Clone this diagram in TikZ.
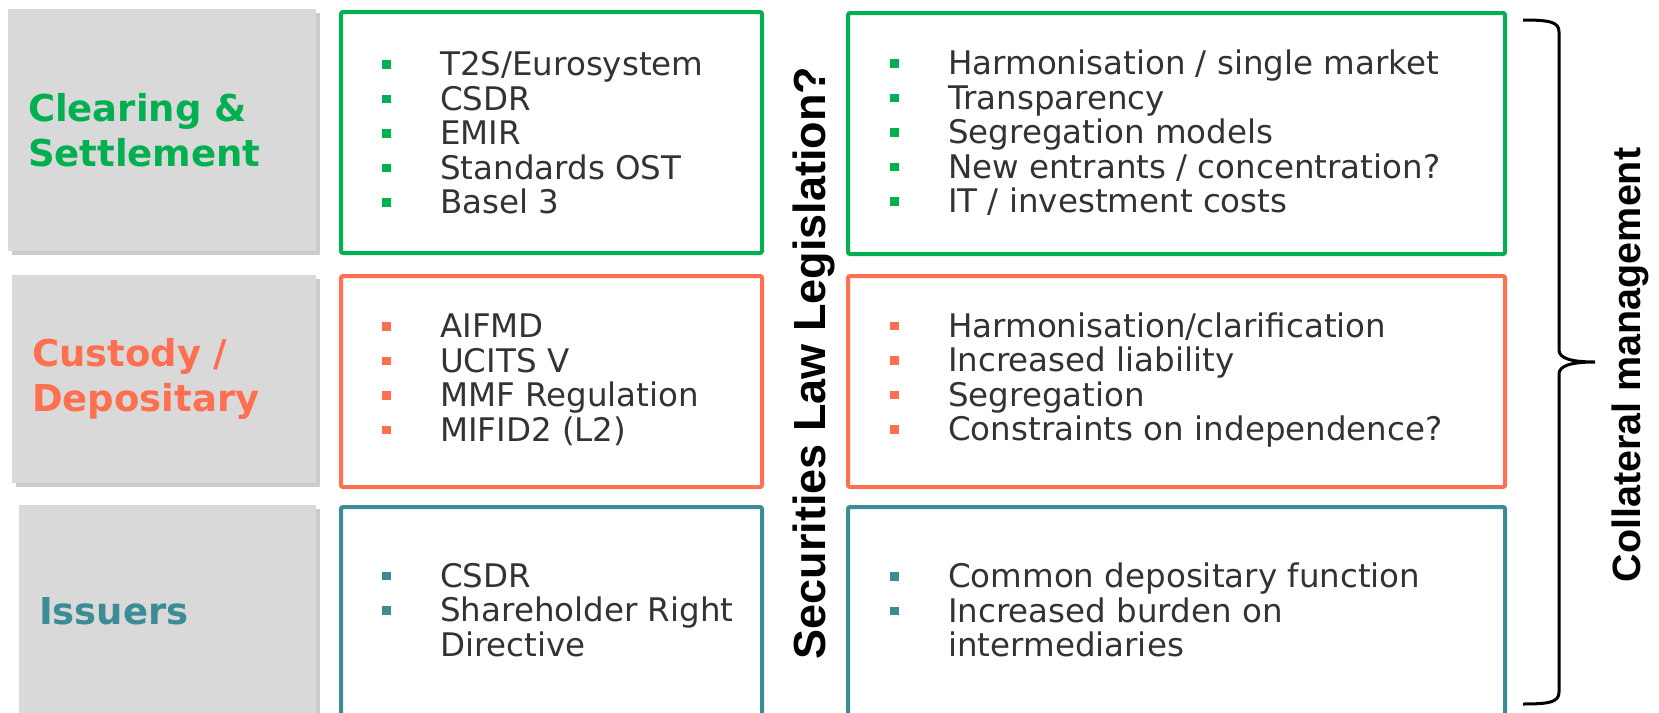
\documentclass[tikz,border=0pt]{standalone}
\usepackage{fontspec}
\setmainfont{DejaVu Sans}
\newfontfamily\arialfont{Liberation Sans}
\usepackage{xcolor}
\usetikzlibrary{shadows}
\definecolor{grn}{RGB}{0,176,80}
\definecolor{org}{RGB}{255,112,80}
\definecolor{tea}{RGB}{59,140,148}
\definecolor{lblgray}{RGB}{217,217,217}
\definecolor{txtgray}{RGB}{51,51,51}
\newcommand{\blt}[2]{\makebox[58pt][l]{\textcolor{#1}{\rule[7pt]{9pt}{8.5pt}}}#2}
\newcommand{\cont}{\hspace*{58pt}}

\begin{document}
\begin{tikzpicture}[x=1pt, y=-1pt,
  lblbox/.style={fill=lblgray, inner xsep=20pt, inner ysep=0pt, align=left, font=\fontsize{37}{45}\selectfont\bfseries, drop shadow={shadow xshift=4pt, shadow yshift=-4pt, fill=black!45, opacity=0.45}},
  lstbox/.style={draw=#1, line width=4pt, rounded corners=2pt, fill=white, inner sep=0pt},
  lsttext/.style={anchor=west, inner sep=0pt, align=left, text=txtgray, font=\fontsize{32.5}{34.5}\selectfont},
  vlabel/.style={rotate=90, inner sep=0pt, font=\arialfont\bfseries\fontsize{#1}{#1}\selectfont}]
\useasboundingbox (0,0) rectangle (1659,712); \clip (0,0) rectangle (1659,712);
\node[lblbox, text=grn, text width=268pt, minimum height=242pt] (clsLbl) at (162,130) {Clearing \&\\Settlement};
\node[lblbox, text=org, text width=264pt, minimum height=208pt] (cusLbl) at (164,379) {Custody /\\Depositary};
\node[lblbox, text=tea, text width=257pt, minimum height=212pt] (issLbl) at (167.5,611) {Issuers};
\node[lstbox=grn, minimum width=421pt, minimum height=241pt] (clsReg) at (551.5,132.5) {};
\node[lstbox=org, minimum width=421pt, minimum height=211pt] (cusReg) at (551.5,381.5) {};
\node[lstbox=tea, minimum width=421pt, minimum height=209pt] (issReg) at (551.5,611.5) {};
\node[lstbox=grn, minimum width=657pt, minimum height=241pt] (clsImp) at (1176.5,133.5) {};
\node[lstbox=org, minimum width=657pt, minimum height=211pt] (cusImp) at (1176.5,381.5) {};
\node[lstbox=tea, minimum width=657pt, minimum height=209pt] (issImp) at (1176.5,611.5) {};
\node[lsttext] (clsRegTx) at (382,133) {\blt{grn}{T2S/Eurosystem}\\\blt{grn}{CSDR}\\\blt{grn}{EMIR}\\\blt{grn}{Standards OST}\\\blt{grn}{Basel 3}};
\node[lsttext] (cusRegTx) at (382,380) {\blt{org}{AIFMD}\\\blt{org}{UCITS V}\\\blt{org}{MMF Regulation}\\\blt{org}{MIFID2 (L2)}};
\node[lsttext] (issRegTx) at (382,610) {\blt{tea}{CSDR}\\\blt{tea}{Shareholder Right}\\\cont Directive};
\node[lsttext] (clsImpTx) at (890,133) {\blt{grn}{Harmonisation / single market}\\\blt{grn}{Transparency}\\\blt{grn}{Segregation models}\\\blt{grn}{New entrants / concentration?}\\\blt{grn}{IT / investment costs}};
\node[lsttext] (cusImpTx) at (890,380) {\blt{org}{Harmonisation/clarification}\\\blt{org}{Increased liability}\\\blt{org}{Segregation}\\\blt{org}{Constraints on independence?}};
\node[lsttext] (issImpTx) at (890,610) {\blt{tea}{Common depositary function}\\\blt{tea}{Increased burden on}\\\cont intermediaries};
\node[vlabel=45] (secLaw) at (814,363) {Securities Law Legislation?};
\draw[line width=3pt, black] (1523,20) .. controls (1550,20) and (1559,22) .. (1559,32) -- (1559,350) .. controls (1559,358) and (1570,362) .. (1595,362) .. controls (1570,362) and (1559,366) .. (1559,374) -- (1559,692) .. controls (1559,702) and (1550,704) .. (1523,704);
\node[vlabel=39.5] (colMgmt) at (1630,365) {Collateral management};
\end{tikzpicture}
\end{document}
